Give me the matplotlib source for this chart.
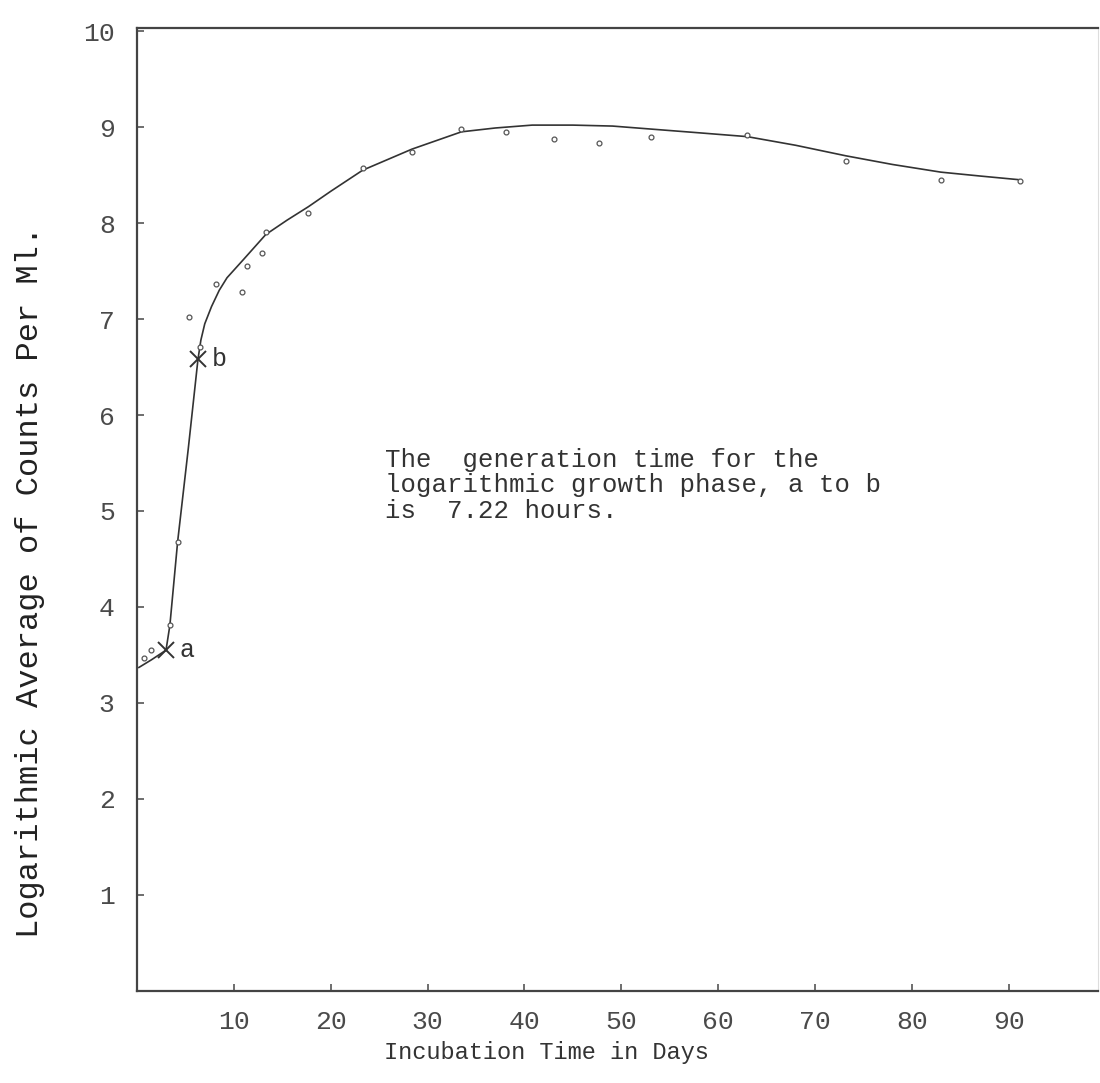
import matplotlib
matplotlib.use("Agg")
import matplotlib.pyplot as plt

# hand traced curve (days, log count)
curve_days = [0.2, 1.5, 3.0, 3.4, 4.2, 5.3, 6.3, 6.6, 7.0, 7.7, 8.5, 9.3, 11.0,
              13.3, 15.5, 17.7, 20.0, 23.3, 28.4, 33.5, 37.0, 40.8, 45.0, 49.1,
              52.9, 58.0, 63.0, 68.0, 73.2, 78.0, 83.0, 87.0, 91.2]
curve_log = [3.37, 3.45, 3.55, 3.81, 4.68, 5.65, 6.58, 6.78, 6.95, 7.13, 7.30,
             7.43, 7.62, 7.88, 8.03, 8.17, 8.33, 8.55, 8.77, 8.95, 8.99, 9.02,
             9.02, 9.01, 8.98, 8.94, 8.90, 8.81, 8.70, 8.61, 8.53, 8.49, 8.45]

# observed points
obs_days = [0.7, 1.4, 3.4, 4.2, 5.4, 6.5, 8.2, 10.8, 11.4, 12.9, 13.3, 17.7,
            23.3, 28.4, 33.5, 38.1, 43.1, 47.7, 53.1, 63.0, 73.2, 83.0, 91.2]
obs_log = [3.47, 3.55, 3.81, 4.68, 7.02, 6.71, 7.36, 7.28, 7.55, 7.69, 7.91,
           8.10, 8.57, 8.74, 8.98, 8.95, 8.88, 8.83, 8.90, 8.92, 8.65, 8.45,
           8.44]

# start / end of the log phase
phase_names = ["a", "b"]
phase_days = [3.0, 6.3]
phase_log = [3.55, 6.58]

x_ticks = [10, 20, 30, 40, 50, 60, 70, 80, 90]
y_ticks = [1, 2, 3, 4, 5, 6, 7, 8, 9, 10]

note = ("The  generation time for the\n"
        "logarithmic growth phase, a to b\n"
        "is  7.22 hours.")

mono = "Liberation Mono"
ink = "#333333"

fig = plt.figure(figsize=(11, 10.83), dpi=100)
ax = fig.add_axes([0.1245, 0.085, 0.8735, 0.889])

ax.plot(curve_days, curve_log, color=ink, linewidth=1.2)
ax.plot(obs_days, obs_log, linestyle="none", marker="o", markersize=3.5,
        markerfacecolor="white", markeredgecolor="#555555", markeredgewidth=0.9)
ax.plot(phase_days, phase_log, linestyle="none", marker="x", markersize=11,
        markeredgewidth=1.4, color=ink)
for name, d, v in zip(phase_names, phase_days, phase_log):
    ax.annotate(name, (d, v), xytext=(10, 0), textcoords="offset points",
                fontsize=18, family=mono, color=ink, va="center")

# note sits with its middle line near y=5.27
ax.text(25.6, 5.27, note, fontsize=18.5, family=mono, color=ink,
        va="center", ha="left", linespacing=1.08)

ax.set_xlim(0, 99.2)
ax.set_ylim(0, 10.03)
ax.set_xticks(x_ticks)
ax.set_yticks(y_ticks)
ax.set_xticklabels([str(t) for t in x_ticks], family=mono, fontsize=19, color="#4a4a4a")
ax.set_yticklabels([str(t) for t in y_ticks], family=mono, fontsize=19, color="#4a4a4a")
ax.tick_params(direction="in", length=5, width=1.2, color="#555555")
ax.tick_params(axis="x", pad=14)
ax.tick_params(axis="y", pad=16)

for side in ["left", "bottom", "top"]:
    ax.spines[side].set_linewidth(1.6)
    ax.spines[side].set_color("#444444")
ax.spines["right"].set_linewidth(0.8)
ax.spines["right"].set_color("#dddddd")

fig.text(546 / 1100, 1 - 1052 / 1083, "Incubation Time in Days", family=mono,
         fontsize=17, color=ink, ha="center", va="center")
fig.text(30 / 1100, 1 - 582 / 1083, "Logarithmic Average of Counts Per Ml.",
         family=mono, fontsize=23, color="#222222", ha="center", va="center",
         rotation=90)

fig.savefig("out.png", dpi=100, facecolor="white")
